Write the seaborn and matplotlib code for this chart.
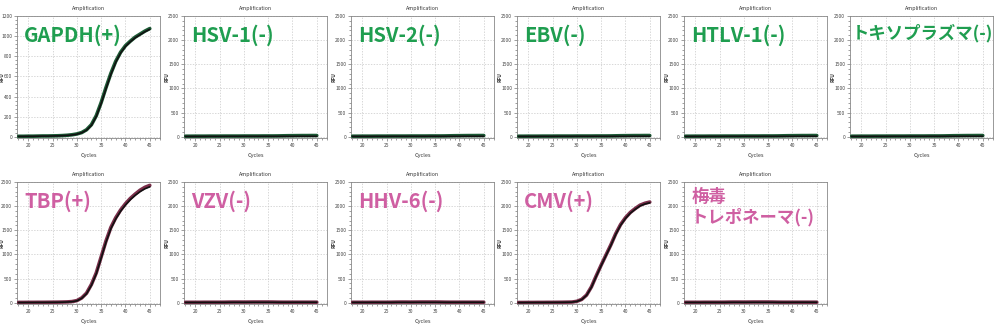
import numpy as np
import pandas as pd
import matplotlib
matplotlib.use("Agg")
import matplotlib.pyplot as plt
import seaborn as sns
from matplotlib.ticker import MultipleLocator

sns.set_theme(style="whitegrid")
plt.rcParams['font.family'] = ['Noto Sans CJK JP', 'DejaVu Sans']

cycles = list(range(18, 46))

names = ["GAPDH(+)", "HSV-1(-)", "HSV-2(-)", "EBV(-)", "HTLV-1(-)", "トキソプラズマ(-)",
         "TBP(+)", "VZV(-)", "HHV-6(-)", "CMV(+)", "梅毒\nトレポネーマ(-)"]
groups = ["green"] * 6 + ["pink"] * 5

gapdh_a = [5, 5, 6, 6, 7, 8, 8, 9, 10, 12, 15, 20, 28, 42, 70, 120, 210, 340, 490, 630, 750, 840, 905, 950, 990, 1020, 1050, 1075]
gapdh_b = [4, 4, 5, 5, 6, 7, 7, 8, 9, 11, 14, 18, 26, 40, 66, 114, 202, 330, 478, 620, 740, 832, 898, 944, 984, 1014, 1044, 1068]
tbp_a = [8, 8, 9, 9, 10, 10, 11, 12, 13, 15, 18, 25, 45, 100, 200, 380, 620, 950, 1280, 1560, 1760, 1920, 2050, 2160, 2250, 2330, 2390, 2430]
tbp_b = [6, 6, 7, 7, 8, 8, 9, 10, 11, 13, 16, 22, 40, 92, 188, 362, 600, 925, 1255, 1535, 1735, 1895, 2025, 2135, 2225, 2300, 2360, 2400]
cmv_a = [6, 6, 7, 7, 8, 8, 9, 9, 10, 11, 13, 15, 30, 70, 160, 330, 560, 780, 990, 1200, 1430, 1620, 1760, 1870, 1950, 2020, 2060, 2085]
cmv_b = [5, 5, 6, 6, 7, 7, 8, 8, 9, 10, 12, 14, 28, 66, 154, 320, 548, 768, 978, 1188, 1415, 1605, 1745, 1855, 1935, 2005, 2045, 2070]
neg_green = [12, 12, 13, 13, 13, 14, 14, 14, 15, 15, 15, 15, 16, 16, 16, 16, 17, 17, 17, 18, 20, 22, 23, 24, 25, 25, 26, 26]
neg_black = [8, 8, 8, 8, 9, 9, 9, 9, 9, 10, 10, 10, 10, 10, 10, 10, 10, 10, 10, 10, 10, 10, 10, 11, 11, 11, 11, 11]
neg_pink = [10, 10, 10, 10, 11, 11, 11, 11, 12, 14, 15, 15, 14, 15, 16, 16, 16, 16, 15, 13, 12, 12, 12, 12, 12, 12, 12, 12]

series = {
    "GAPDH(+)": (gapdh_a, gapdh_b),
    "HSV-1(-)": (neg_green, neg_black),
    "HSV-2(-)": (neg_green, neg_black),
    "EBV(-)": (neg_green, neg_black),
    "HTLV-1(-)": (neg_green, neg_black),
    "トキソプラズマ(-)": (neg_green, neg_black),
    "TBP(+)": (tbp_a, tbp_b),
    "VZV(-)": (neg_pink, neg_black),
    "HHV-6(-)": (neg_pink, neg_black),
    "CMV(+)": (cmv_a, cmv_b),
    "梅毒\nトレポネーマ(-)": (neg_pink, neg_black),
}

label_colors = {"green": "#1f9e50", "pink": "#cf5fa2"}
line_colors = {"green": "#1c5a35", "pink": "#7a2e4a"}

fig = plt.figure(figsize=(10, 3.3), dpi=100)
W, H = 1000, 330
lefts = [17, 184, 351, 517, 684, 850]
tops = [16, 182]
aw, ah = 143, 122

for i, name in enumerate(names):
    row, col = divmod(i, 6)
    x0 = lefts[col]
    y0 = tops[row]
    ax = fig.add_axes([x0 / W, 1 - (y0 + ah) / H, aw / W, ah / H])
    a, b = series[name]
    df = pd.DataFrame({"Cycles": cycles * 2, "RFU": a + b,
                       "rep": ["a"] * len(cycles) + ["b"] * len(cycles)})
    g = groups[i]
    sns.lineplot(data=df[df.rep == "a"], x="Cycles", y="RFU", ax=ax,
                 color=line_colors[g], linewidth=2.6, zorder=3)
    sns.lineplot(data=df[df.rep == "b"], x="Cycles", y="RFU", ax=ax,
                 color="#111111", linewidth=1.2, zorder=4)
    ax.set_xlim(17.7, 47.1)
    if name == "GAPDH(+)":
        ax.set_ylim(-12, 1200)
        ax.yaxis.set_major_locator(MultipleLocator(200))
        ax.yaxis.set_minor_locator(MultipleLocator(40))
    else:
        ax.set_ylim(-25, 2500)
        ax.yaxis.set_major_locator(MultipleLocator(500))
        ax.yaxis.set_minor_locator(MultipleLocator(100))
    ax.xaxis.set_major_locator(MultipleLocator(5))
    ax.xaxis.set_minor_locator(MultipleLocator(1))
    ax.grid(True, which="major", color="#c8c8c8", linestyle=(0, (2, 2)), linewidth=0.5)
    ax.set_facecolor("white")
    for s in ax.spines.values():
        s.set_color("#888888")
        s.set_linewidth(0.6)
    ax.tick_params(which="both", direction="out", length=1.5, width=0.4, color="#555555",
                   labelsize=3.5, labelcolor="#444444", pad=1,
                   bottom=True, left=True)
    ax.tick_params(which="major", length=2.5)
    ax.set_title("Amplification", fontsize=3.8, pad=4, color="#333333")
    ax.set_xlabel("Cycles", fontsize=4, labelpad=4, color="#333333")
    ax.set_ylabel("RFU", fontsize=3.5, color="#333333", fontweight="bold")
    ax.yaxis.set_label_coords(-0.088 if col == 0 else -0.1, 0.5)
    if name == "トキソプラズマ(-)":
        fs, tx, ty = 12.5, 0.012, 0.935
    elif "\n" in name:
        fs, tx, ty = 12.5, 0.05, 0.95
    else:
        fs, tx, ty = 14.5, 0.05, 0.93
    ax.text(tx, ty, name, transform=ax.transAxes, ha="left", va="top",
            fontsize=fs, fontweight="bold",
            color=label_colors[g], linespacing=1.1, zorder=5)

fig.savefig("out.png", dpi=100, facecolor="white")
